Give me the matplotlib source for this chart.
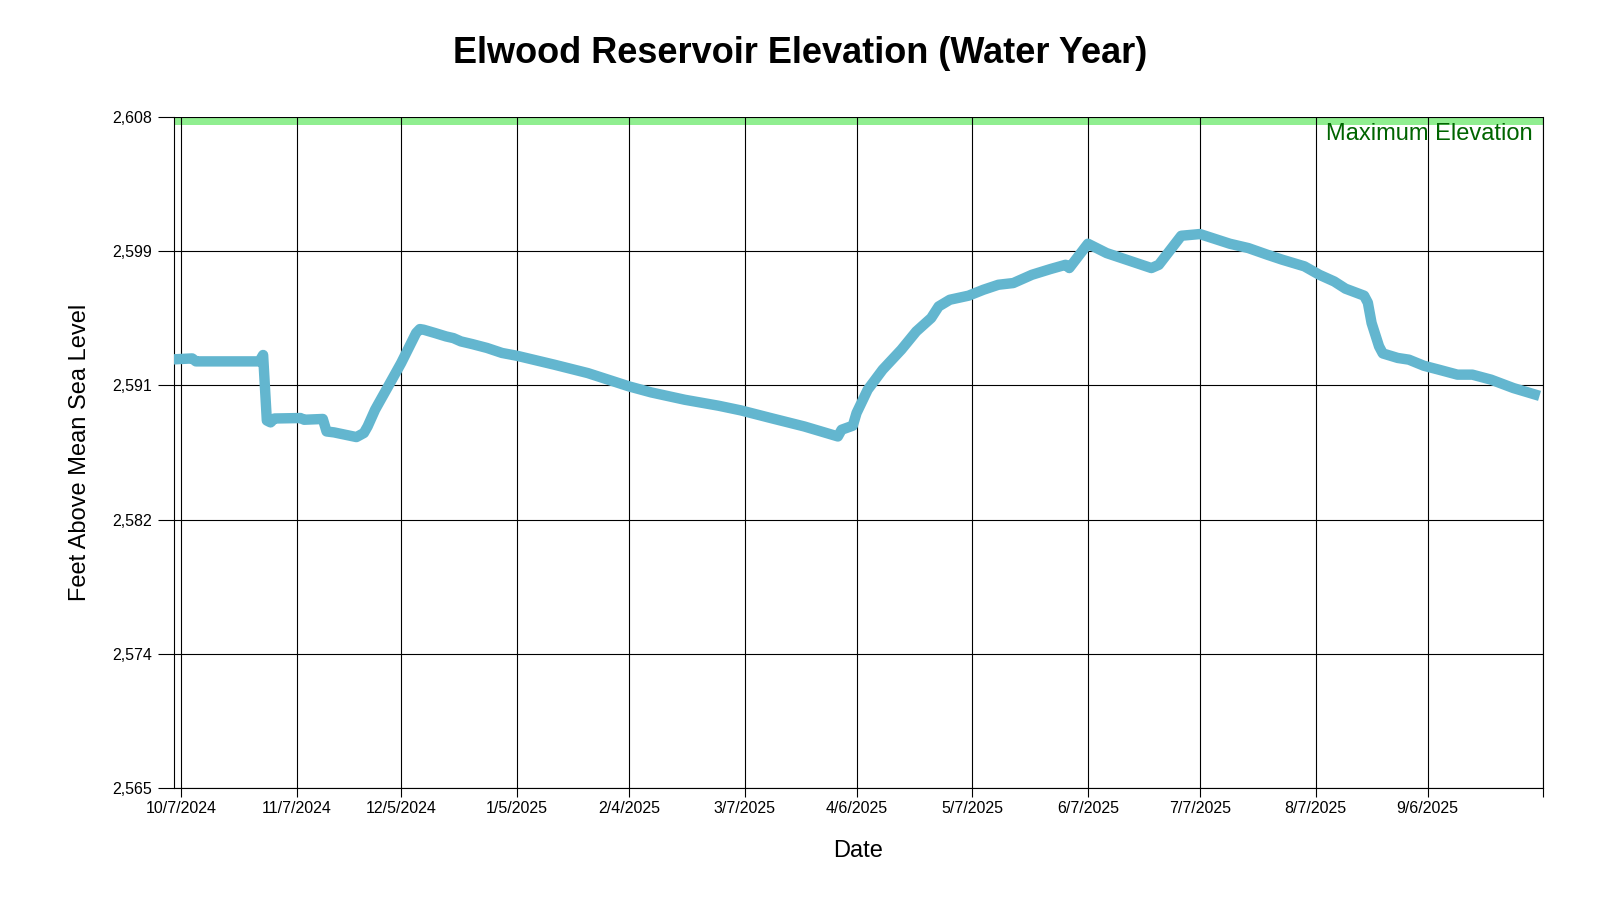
import pandas as pd
import matplotlib
matplotlib.use('Agg')
from matplotlib import pyplot as plt

plt.rcParams['font.family'] = ['Liberation Sans', 'DejaVu Sans']

# daily reservoir elevation
dates = ['2024-10-05', '2024-10-10', '2024-10-11', '2024-10-28', '2024-10-29',
         '2024-10-30', '2024-10-31', '2024-11-01', '2024-11-08', '2024-11-09',
         '2024-11-14', '2024-11-15', '2024-11-17', '2024-11-20', '2024-11-23',
         '2024-11-25', '2024-11-26', '2024-11-28', '2024-11-29', '2024-12-02',
         '2024-12-05', '2024-12-07', '2024-12-09', '2024-12-10', '2024-12-11',
         '2024-12-14', '2024-12-17', '2024-12-19', '2024-12-21', '2024-12-24',
         '2024-12-28', '2025-01-01', '2025-01-05', '2025-01-15', '2025-01-24',
         '2025-02-04', '2025-02-10', '2025-02-19', '2025-02-28', '2025-03-06',
         '2025-03-14', '2025-03-23', '2025-04-01', '2025-04-02', '2025-04-05',
         '2025-04-06', '2025-04-09', '2025-04-13', '2025-04-18', '2025-04-22',
         '2025-04-26', '2025-04-28', '2025-05-01', '2025-05-06', '2025-05-10',
         '2025-05-14', '2025-05-18', '2025-05-23', '2025-05-28', '2025-06-01',
         '2025-06-02', '2025-06-07', '2025-06-12', '2025-06-16', '2025-06-24',
         '2025-06-26', '2025-07-02', '2025-07-07', '2025-07-15', '2025-07-20',
         '2025-07-25', '2025-07-29', '2025-08-04', '2025-08-08', '2025-08-12',
         '2025-08-15', '2025-08-20', '2025-08-21', '2025-08-22', '2025-08-24',
         '2025-08-25', '2025-08-29', '2025-09-01', '2025-09-05', '2025-09-09',
         '2025-09-14', '2025-09-18', '2025-09-23', '2025-09-29', '2025-10-06']
elevation = [2592.47, 2592.53, 2592.34, 2592.34, 2592.75,
             2588.55, 2588.43, 2588.68, 2588.71, 2588.60,
             2588.65, 2587.85, 2587.79, 2587.64, 2587.49,
             2587.75, 2588.17, 2589.24, 2589.67, 2590.95,
             2592.24, 2593.20, 2594.16, 2594.41, 2594.37,
             2594.16, 2593.94, 2593.83, 2593.62, 2593.45,
             2593.20, 2592.88, 2592.70, 2592.13, 2591.59,
             2590.74, 2590.35, 2589.88, 2589.50, 2589.20,
             2588.71, 2588.17, 2587.53, 2587.96, 2588.22,
             2589.03, 2590.53, 2591.81, 2593.09, 2594.26,
             2595.12, 2595.86, 2596.29, 2596.55, 2596.93,
             2597.25, 2597.36, 2597.89, 2598.26, 2598.53,
             2598.32, 2599.88, 2599.28, 2598.96, 2598.32,
             2598.53, 2600.39, 2600.50, 2599.88, 2599.60,
             2599.18, 2598.86, 2598.43, 2597.89, 2597.46,
             2597.00, 2596.55, 2596.10, 2594.80, 2593.30,
             2592.85, 2592.56, 2592.45, 2592.06, 2591.81,
             2591.49, 2591.49, 2591.17, 2590.63, 2590.13]

tick_dates = ['2024-10-07', '2024-11-07', '2024-12-05', '2025-01-05', '2025-02-04',
              '2025-03-07', '2025-04-06', '2025-05-07', '2025-06-07', '2025-07-07',
              '2025-08-07', '2025-09-06']
tick_labels = ['10/7/2024', '11/7/2024', '12/5/2024', '1/5/2025', '2/4/2025',
               '3/7/2025', '4/6/2025', '5/7/2025', '6/7/2025', '7/7/2025',
               '8/7/2025', '9/6/2025']

y_min = 2565
y_max = 2608
max_elev_band = 0.5

dates = pd.to_datetime(dates)
tick_dates = list(pd.to_datetime(tick_dates))
x_start = pd.Timestamp('2024-10-05 03:00')
x_end = pd.Timestamp('2025-10-06 22:00')

fig = plt.figure(figsize=(16, 9), dpi=100)
ax = fig.add_axes([0.10875, 0.1244, 0.8556, 0.7456])

ax.axhspan(y_max - max_elev_band, y_max, color='#90ee90', zorder=0.2, lw=0)
ax.plot(dates, elevation, color='#63b6cf', lw=7.5, solid_joinstyle='round',
        solid_capstyle='butt', zorder=3)

ax.set_xlim(x_start, x_end)
ax.set_ylim(y_min, y_max)

ax.set_xticks(tick_dates + [x_end])
ax.set_xticklabels(tick_labels + [''], fontsize=11.5)
yt = [y_min + i * (y_max - y_min) / 5 for i in range(6)]
ax.set_yticks(yt)
ax.set_yticklabels(['{:,.0f}'.format(v) for v in yt], fontsize=11.5)

ax.set_axisbelow(True)
ax.grid(True, color='black', lw=0.8)
ax.tick_params(axis='y', length=11.5, width=0.8, pad=4)
ax.tick_params(axis='x', length=6.5, width=0.8, pad=3)
for s in ax.spines.values():
    s.set_linewidth(0.8)
ax.spines['top'].set_visible(False)

ax.text(0.9927, 0.9657, 'Maximum Elevation', transform=ax.transAxes,
        ha='right', va='baseline', fontsize=17, color='#006400')

fig.text(0.5, 0.93, 'Elwood Reservoir Elevation (Water Year)', ha='center',
         va='baseline', fontsize=26, fontweight='bold')
fig.text(0.05, 0.4978, 'Feet Above Mean Sea Level', rotation=90, ha='center',
         va='center', fontsize=17)
fig.text(0.5363, 0.048, 'Date', ha='center', va='baseline', fontsize=17)

fig.savefig('out.png', dpi=100)
